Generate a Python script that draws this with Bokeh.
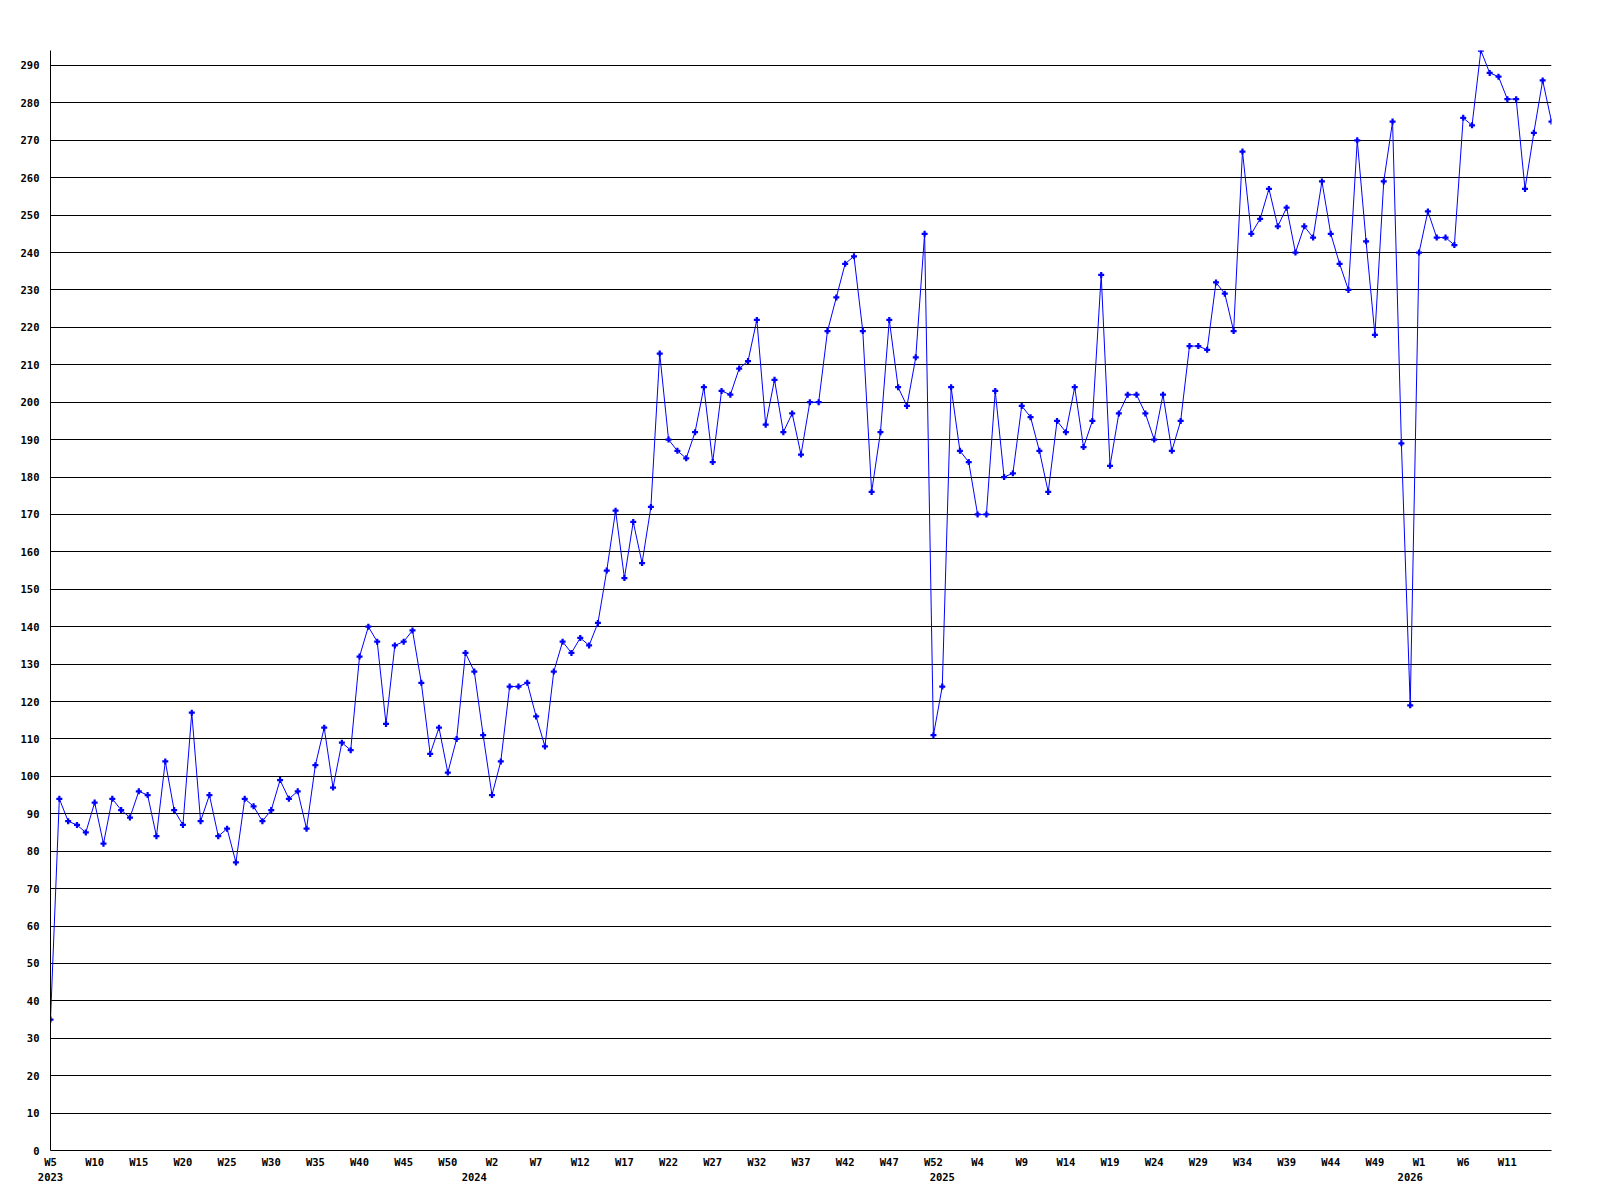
from bokeh.plotting import figure
from bokeh.models import Range1d, FixedTicker, LinearAxis
from bokeh.embed import file_html
from bokeh.resources import INLINE

# ---- data (weekly values) ----
years = ["2023", "2024", "2025", "2026"]
first_week = [5, 0, 0, 0]

values_2023 = [35, 94, 88, 87, 85, 93, 82, 94, 91, 89, 96, 95, 84, 104, 91, 87,
               117, 88, 95, 84, 86, 77, 94, 92, 88, 91, 99, 94, 96, 86, 103, 113,
               97, 109, 107, 132, 140, 136, 114, 135, 136, 139, 125, 106, 113, 101,
               110, 133]
values_2024 = [128, 111, 95, 104, 124, 124, 125, 116, 108, 128, 136, 133, 137, 135,
               141, 155, 171, 153, 168, 157, 172, 213, 190, 187, 185, 192, 204, 184,
               203, 202, 209, 211, 222, 194, 206, 192, 197, 186, 200, 200, 219, 228,
               237, 239, 219, 176, 192, 222, 204, 199, 212, 245, 111]
values_2025 = [124, 204, 187, 184, 170, 170, 203, 180, 181, 199, 196, 187, 176, 195,
               192, 204, 188, 195, 234, 183, 197, 202, 202, 197, 190, 202, 187, 195,
               215, 215, 214, 232, 229, 219, 267, 245, 249, 257, 247, 252, 240, 247,
               244, 259, 245, 237, 230, 270, 243, 218, 259, 275, 189]
values_2026 = [119, 240, 251, 244, 244, 242, 276, 274, 294, 288, 287, 281, 281, 257,
               272, 286, 275]

y_ticks = list(range(0, 300, 10))

# ---- assemble series ----
series = [values_2023, values_2024, values_2025, values_2026]
xs, ys, week_no = [], [], []
year_start = {}
i = 0
for yr, fw, vals in zip(years, first_week, series):
    year_start[i] = yr
    for k, v in enumerate(vals):
        xs.append(i)
        ys.append(v)
        week_no.append(fw + k)
        i += 1

week_ticks = list(range(0, len(xs) - 1, 5))
week_labels = {t: "W%d" % week_no[t] for t in week_ticks}

FONT = "DejaVu Sans Mono"
FSIZE = "10.5px"

p = figure(width=1572, height=1196, output_backend="svg", toolbar_location=None,
           x_range=Range1d(0, len(xs) - 1), y_range=Range1d(0, max(ys)),
           min_border_left=50, min_border_right=21, min_border_top=50,
           min_border_bottom=46)
p.outline_line_color = None
p.background_fill_color = "white"
p.border_fill_color = "white"

# week axis
xa = p.below[0]
xa.ticker = FixedTicker(ticks=week_ticks)
xa.major_label_overrides = week_labels
xa.major_tick_in = 0
xa.major_tick_out = 0
xa.minor_tick_line_color = None
xa.axis_line_color = "black"
xa.major_label_standoff = 5
xa.major_label_text_font = FONT
xa.major_label_text_font_style = "bold"
xa.major_label_text_font_size = FSIZE
xa.major_label_text_color = "black"

# year axis
ya2 = LinearAxis(ticker=FixedTicker(ticks=list(year_start.keys())),
                 major_label_overrides=year_start)
ya2.axis_line_color = None
ya2.major_tick_line_color = None
ya2.major_tick_in = 0
ya2.major_tick_out = 0
ya2.minor_tick_line_color = None
ya2.major_label_standoff = 2
ya2.major_label_text_font = FONT
ya2.major_label_text_font_style = "bold"
ya2.major_label_text_font_size = FSIZE
ya2.major_label_text_color = "black"
p.add_layout(ya2, "below")

# y axis
ya = p.left[0]
ya.ticker = FixedTicker(ticks=y_ticks)
ya.major_tick_in = 0
ya.major_tick_out = 0
ya.minor_tick_line_color = None
ya.axis_line_color = "black"
ya.major_label_standoff = 11
ya.major_label_text_font = FONT
ya.major_label_text_font_style = "bold"
ya.major_label_text_font_size = FSIZE
ya.major_label_text_color = "black"

p.xgrid.visible = False
p.ygrid.ticker = FixedTicker(ticks=y_ticks)
p.ygrid.grid_line_color = "black"
p.ygrid.grid_line_alpha = 1.0
p.ygrid.grid_line_width = 1

p.line(xs, ys, line_color="#0000ff", line_width=1)
p.scatter(xs, ys, marker="plus", size=6, fill_color="#0000ff", line_color=None)

open("out.html", "w").write(file_html(p, INLINE))
